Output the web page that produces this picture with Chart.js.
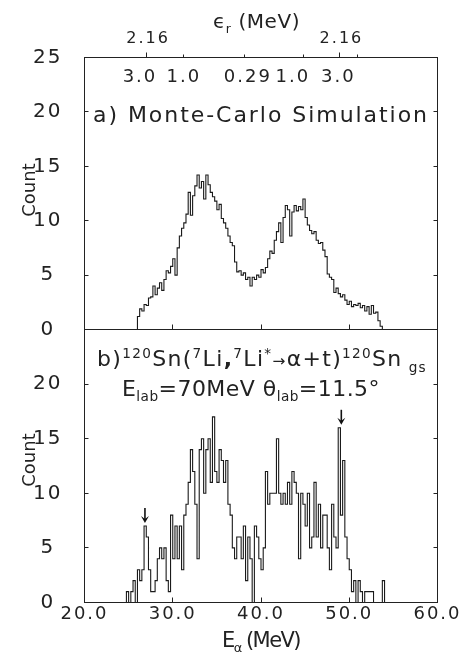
<!DOCTYPE html>
<html>
<head>
<meta charset="utf-8">
<script src="https://cdn.jsdelivr.net/npm/chart.js@4.4.1/dist/chart.umd.min.js"></script>
<style>
html,body{margin:0;padding:0;background:#fff;}
#wrap{position:relative;width:467px;height:658px;overflow:hidden;font-family:'DejaVu Sans',sans-serif;color:#222;}
canvas{position:absolute;left:0;}
.t{position:absolute;white-space:nowrap;line-height:1;}
.t sup,.t sub{font-size:0.62em;line-height:0;}
.arr{font-size:0.7em;}
.gs{margin-left:6px;}
</style>
</head>
<body>
<div id="wrap">
  <canvas id="ca" width="467" height="345" style="top:0px"></canvas>
  <canvas id="cb" width="467" height="338" style="top:320px"></canvas>
  <div class="t" id="tEps" style="font-size:20px">ϵ<sub>r</sub> (MeV)</div>
  <div class="t" id="tA" style="font-size:22px">a) Monte-Carlo Simulation</div>
  <div class="t" id="tB" style="font-size:22px">b)<sup>120</sup>Sn(<sup>7</sup>Li<b>,</b><sup>7</sup>Li<sup>*</sup><span class="arr">→</span>α+t)<sup>120</sup>Sn<sub class="gs">gs</sub></div>
  <div class="t" id="tE" style="font-size:22px">E<sub>lab</sub>=70MeV θ<sub>lab</sub>=11.5°</div>
  <div class="t" id="tX" style="font-size:21px">E<sub>α</sub> (MeV)</div>
  <div class="t" id="cA" style="font-size:18px">Count</div>
  <div class="t" id="cB" style="font-size:18px">Count</div>
</div>
<script>
// ---------------- data ----------------
// Panel a: Monte-Carlo simulation, counts per 0.25 MeV bin (left edges from 25.75 MeV)
const binWidth = 0.25;
const binStartA = 25.75;
const countsA = [
  0, 1.2, 1.9, 1.7, 2.3, 2.2, 2.9, 3.0, 4.0, 3.2,
  3.8, 4.3, 3.6, 4.6, 5.4, 5.2, 5.8, 6.5, 5.0, 7.5,
  8.6, 9.3, 9.8, 10.6, 12.6, 10.5, 12.3, 13.2, 14.2, 13.0,
  13.6, 12.0, 14.2, 13.3, 12.6, 12.2, 11.8, 11.0, 11.5, 10.2,
  9.8, 9.3, 8.6, 8.0, 7.7, 6.2, 5.3, 5.4, 5.0, 5.2,
  4.6, 4.8, 4.0, 4.8, 4.6, 5.0, 4.8, 5.5, 5.2, 5.7,
  6.5, 7.2, 7.0, 8.2, 9.0, 9.8, 8.0, 10.3, 11.4, 11.0,
  8.6, 10.8, 11.4, 10.9, 11.3, 11.0, 12.0, 10.3, 9.6, 9.1,
  8.8, 9.0, 8.2, 7.9, 8.0, 7.3, 6.7, 5.1, 4.8, 4.6,
  3.4, 3.8, 3.3, 3.0, 3.2, 2.7, 2.3, 2.6, 2.1, 2.3,
  2.2, 2.4, 2.0, 2.2, 1.7, 2.1, 1.4, 2.2, 1.5, 1.6,
  0.8, 0.3, 0
];
// Panel b: measured 120Sn(7Li,7Li*->a+t) spectrum, counts per 0.25 MeV bin (left edges from 24.5 MeV)
const binStartB = 24.5;
const countsB = [
  0, 1, 0, 1, 2, 0, 3, 2, 3, 7,
  6, 3, 1, 1, 2, 4, 5, 4, 5, 2,
  1, 8, 4, 7, 4, 7, 3, 8, 9, 11,
  14, 12, 9, 4, 14, 15, 10, 14, 15, 11,
  17, 12, 11, 14, 13, 11, 13, 9, 8, 5,
  4, 6, 6, 4, 7, 2, 6, 4, 0, 7,
  6, 4, 3, 5, 12, 9, 10, 10, 10, 15,
  10, 9, 10, 9, 11, 9, 12, 11, 10, 4,
  10, 9, 7, 10, 5, 6, 11, 6, 9, 5,
  8, 8, 5, 3, 9, 6, 5, 16, 8, 13,
  6, 4, 3, 1, 2, 0, 2, 1, 0, 1,
  1, 1, 1, 0, 0, 0, 0, 2, 0
];
// axis ticks
const xTickValues = [20, 30, 40, 50, 60];
const yTicksA = [0, 5, 10, 15, 20, 25];
const yTicksB = [0, 5, 10, 15, 20];
const innerTicks = [5, 10, 15, 20];
const innerXTicks = [30, 40, 50];
// top epsilon_r axis (positions given in E_alpha, MeV)
const epsTickE = [27.04, 31.19, 38.18, 44.78, 48.86, 50.94];
const epsTickMajor = [true, false, false, false, true, false];
const epsOuterE = [27.1, 49.0];
const epsOuterLabels = ['2.16', '2.16'];
const epsInnerE = [26.17, 31.15, 38.40, 43.50, 48.65];
const epsInnerLabels = ['3.0', '1.0', '0.29', '1.0', '3.0'];
// arrows in panel b
const arrowE = [26.85, 49.1];
const arrowCount = [7, 16];

// ---------------- helpers ----------------
function toPoints(start, counts) {
  return counts.map((c, i) => ({ x: start + i * binWidth, y: c }));
}
const FONT = "'DejaVu Sans', sans-serif";
const INK = '#222';
const crisp = v => Math.round(v - 0.5) + 0.5;

const spacingPlugin = {
  id: 'spacing',
  beforeDraw(chart) { chart.ctx.letterSpacing = '2px'; }
};

const framePlugin = {
  id: 'frame',
  afterDatasetsDraw(chart) {
    const { ctx, chartArea: { left, right, top, bottom }, scales: { x, y } } = chart;
    ctx.save();
    ctx.strokeStyle = '#222';
    ctx.lineWidth = 1;
    ctx.strokeRect(left, top, right - left, bottom - top);
    ctx.beginPath();
    innerTicks.forEach(v => {
      const py = crisp(y.getPixelForValue(v));
      ctx.moveTo(left, py); ctx.lineTo(left + 4, py);
      ctx.moveTo(right, py); ctx.lineTo(right - 4, py);
    });
    innerXTicks.forEach(v => {
      const px = crisp(x.getPixelForValue(v));
      ctx.moveTo(px, bottom); ctx.lineTo(px, bottom - 5);
    });
    ctx.stroke();
    ctx.restore();
  }
};

const epsPlugin = {
  id: 'eps',
  afterDraw(chart) {
    const { ctx, chartArea: { top }, scales: { x } } = chart;
    ctx.save();
    ctx.strokeStyle = '#222';
    ctx.lineWidth = 1;
    ctx.beginPath();
    epsTickE.forEach((e, i) => {
      const px = crisp(x.getPixelForValue(e));
      ctx.moveTo(px, top); ctx.lineTo(px, top - (epsTickMajor[i] ? 5 : 3));
    });
    ctx.stroke();
    ctx.fillStyle = INK;
    ctx.textAlign = 'center';
    ctx.textBaseline = 'middle';
    ctx.letterSpacing = '2px';
    ctx.font = "16px " + FONT;
    epsOuterE.forEach((e, i) => ctx.fillText(epsOuterLabels[i], x.getPixelForValue(e) + 1, top - 19));
    ctx.font = "18px " + FONT;
    epsInnerE.forEach((e, i) => ctx.fillText(epsInnerLabels[i], x.getPixelForValue(e) + 1, top + 20));
    ctx.restore();
  }
};

const arrowPlugin = {
  id: 'arrows',
  afterDatasetsDraw(chart) {
    const { ctx, scales: { x, y } } = chart;
    ctx.save();
    ctx.strokeStyle = '#111';
    ctx.fillStyle = '#111';
    ctx.lineWidth = 1.6;
    arrowE.forEach((e, i) => {
      const px = x.getPixelForValue(e);
      const tip = y.getPixelForValue(arrowCount[i]) - 3;
      ctx.beginPath();
      ctx.moveTo(px, tip - 15); ctx.lineTo(px, tip - 3);
      ctx.stroke();
      ctx.beginPath();
      ctx.moveTo(px, tip); ctx.lineTo(px - 4, tip - 7); ctx.lineTo(px, tip - 4); ctx.lineTo(px + 4, tip - 7);
      ctx.closePath();
      ctx.fill();
    });
    ctx.restore();
  }
};

function yScale(ticks) {
  return {
    min: 0, max: 25,
    afterBuildTicks: s => { s.ticks = ticks.map(v => ({ value: v })); },
    grid: { display: false, drawTicks: false },
    border: { display: false },
    ticks: {
      font: { family: FONT, size: 20 }, color: INK, padding: 24, crossAlign: 'center',
      callback: v => String(v)
    },
    afterFit: s => { s.width = 84.5; s.paddingTop = 0; s.paddingBottom = 0; }
  };
}

function dataset(points) {
  return {
    data: points, stepped: 'before', borderColor: '#1a1a1a', borderWidth: 1.1,
    pointRadius: 0, fill: false, tension: 0
  };
}

Chart.defaults.animation = false;

new Chart(document.getElementById('ca'), {
  type: 'line',
  data: { datasets: [dataset(toPoints(binStartA, countsA))] },
  options: {
    responsive: false, animation: false,
    layout: { padding: { left: 0, right: 29.5, top: 57.5, bottom: 15.5 } },
    plugins: { legend: { display: false }, tooltip: { enabled: false } },
    scales: {
      x: { type: 'linear', min: 20, max: 60, display: false },
      y: yScale(yTicksA)
    }
  },
  plugins: [spacingPlugin, framePlugin, epsPlugin]
});

new Chart(document.getElementById('cb'), {
  type: 'line',
  data: { datasets: [dataset(toPoints(binStartB, countsB))] },
  options: {
    responsive: false, animation: false,
    layout: { padding: { left: 0, right: 29.5, top: 9.5, bottom: 0 } },
    plugins: { legend: { display: false }, tooltip: { enabled: false } },
    scales: {
      x: {
        type: 'linear', min: 20, max: 60,
        afterBuildTicks: s => { s.ticks = xTickValues.map(v => ({ value: v })); },
        grid: { display: false, drawTicks: false },
        border: { display: false },
        ticks: { font: { family: FONT, size: 18 }, color: INK, padding: 1, maxRotation: 0,
                 callback: v => Number(v).toFixed(1) },
        afterFit: s => { s.height = 55.5; s.paddingLeft = 0; s.paddingRight = 0; }
      },
      y: yScale(yTicksB)
    }
  },
  plugins: [spacingPlugin, framePlugin, arrowPlugin]
});

// ---------------- text placement ----------------
function place(id, left, capY, width) {
  const el = document.getElementById(id);
  const fs = parseFloat(getComputedStyle(el).fontSize);
  el.style.left = left + 'px';
  el.style.top = (capY - 0.48 * fs) + 'px';
  if (width) {
    el.style.letterSpacing = '0px';
    const w = el.getBoundingClientRect().width;
    const n = el.textContent.length;
    el.style.letterSpacing = ((width - w) / n) + 'px';
  }
}
function placeRot(id, cx, cy) {
  const el = document.getElementById(id);
  const w = el.offsetWidth, h = el.offsetHeight;
  el.style.left = (cx - w / 2) + 'px';
  el.style.top = (cy - h / 2) + 'px';
  el.style.transform = 'rotate(-90deg)';
}
place('tEps', 213, 20.5, 87);
place('tA', 93, 115, 336);
place('tB', 97, 359, 330);
place('tE', 122, 389, 258);
place('tX', 222, 640, 78);
placeRot('cA', 28.5, 190);
placeRot('cB', 28.5, 460);
</script>
</body>
</html>
